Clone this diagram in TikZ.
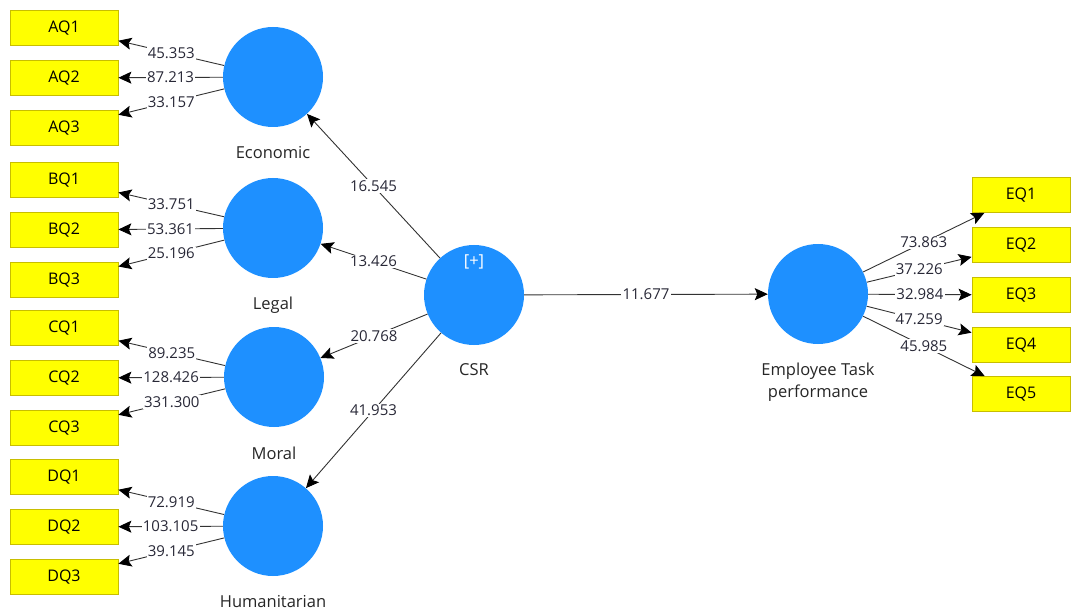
\documentclass[tikz,border=0pt]{standalone}
\usepackage{fontspec}
\setmainfont{Open Sans}
\usetikzlibrary{arrows.meta}
\definecolor{lvblue}{RGB}{30,144,255}
\definecolor{indyellow}{RGB}{255,255,0}
\definecolor{indborder}{RGB}{200,190,0}
\definecolor{edgegray}{RGB}{50,50,50}
\definecolor{numcol}{RGB}{40,40,55}
\tikzset{
  lv/.style={circle, fill=lvblue, minimum size=100pt, inner sep=0pt},
  ind/.style={rectangle, fill=indyellow, draw=indborder, line width=0.8pt, minimum height=35pt, inner sep=0pt, font=\fontsize{16}{18}\selectfont},
  indL/.style={ind, minimum width=108pt},
  indR/.style={ind, minimum width=98pt},
  conn/.style={draw=edgegray, line width=0.9pt, -{Stealth[length=13pt,width=12pt,inset=2.5pt,color=black]}},
  wlabel/.style={fill=white, inner sep=1.2pt, font=\fontsize{15}{17}\selectfont, text=numcol},
  lvname/.style={font=\fontsize{16.5}{22}\selectfont, text=black!85, align=center},
}
\begin{document}
\begin{tikzpicture}[x=1pt, y=-1pt]
\useasboundingbox (0,0) rectangle (1073,612);
% latent variables
\node[lv] (E) at (273,77) {};
\node[lv] (L) at (273,228) {};
\node[lv] (M) at (274,377) {};
\node[lv] (H) at (273,526) {};
\node[lv] (C) at (474,295) {};
\node[lv] (T) at (818,294) {};
\node[font=\fontsize{16.5}{18}\selectfont, text=white] (plus) at (474,262) {[+]};
\node[lvname] (En) at (273,153) {Economic};
\node[lvname] (Ln) at (273,305) {Legal};
\node[lvname] (Mn) at (274,453) {Moral};
\node[lvname] (Hn) at (273,602) {Humanitarian};
\node[lvname] (Cn) at (474,370) {CSR};
\node[lvname, text height=12pt, text depth=4pt] (Tn) at (818,393) {Employee Task\\performance};
% indicators left
\node[indL] (AQ1) at (64,28) {AQ1};
\node[indL] (AQ2) at (64,78) {AQ2};
\node[indL] (AQ3) at (64,128) {AQ3};
\node[indL] (BQ1) at (64,180) {BQ1};
\node[indL] (BQ2) at (64,230) {BQ2};
\node[indL] (BQ3) at (64,280) {BQ3};
\node[indL] (CQ1) at (64,328) {CQ1};
\node[indL] (CQ2) at (64,378) {CQ2};
\node[indL] (CQ3) at (64,428) {CQ3};
\node[indL] (DQ1) at (64,477) {DQ1};
\node[indL] (DQ2) at (64,527) {DQ2};
\node[indL] (DQ3) at (64,577) {DQ3};
% indicators right
\node[indR] (EQ1) at (1021,195) {EQ1};
\node[indR] (EQ2) at (1021,245) {EQ2};
\node[indR] (EQ3) at (1021,295) {EQ3};
\node[indR] (EQ4) at (1021,345) {EQ4};
\node[indR] (EQ5) at (1021,394) {EQ5};
% loadings
\draw[conn] (E) -- node[wlabel] {45.353} (AQ1);
\draw[conn] (E) -- node[wlabel] {87.213} (AQ2);
\draw[conn] (E) -- node[wlabel] {33.157} (AQ3);
\draw[conn] (L) -- node[wlabel] {33.751} (BQ1);
\draw[conn] (L) -- node[wlabel] {53.361} (BQ2);
\draw[conn] (L) -- node[wlabel] {25.196} (BQ3);
\draw[conn] (M) -- node[wlabel] {89.235} (CQ1);
\draw[conn] (M) -- node[wlabel] {128.426} (CQ2);
\draw[conn] (M) -- node[wlabel] {331.300} (CQ3);
\draw[conn] (H) -- node[wlabel] {72.919} (DQ1);
\draw[conn] (H) -- node[wlabel] {103.105} (DQ2);
\draw[conn] (H) -- node[wlabel] {39.145} (DQ3);
\draw[conn] (T) -- node[wlabel] {73.863} (EQ1);
\draw[conn] (T) -- node[wlabel] {37.226} (EQ2);
\draw[conn] (T) -- node[wlabel] {32.984} (EQ3);
\draw[conn] (T) -- node[wlabel] {47.259} (EQ4);
\draw[conn] (T) -- node[wlabel] {45.985} (EQ5);
% structural paths
\draw[conn] (C) -- node[wlabel] {16.545} (E);
\draw[conn] (C) -- node[wlabel] {13.426} (L);
\draw[conn] (C) -- node[wlabel] {20.768} (M);
\draw[conn] (C) -- node[wlabel] {41.953} (H);
\draw[conn] (C) -- node[wlabel] {11.677} (T);
\end{tikzpicture}
\end{document}
